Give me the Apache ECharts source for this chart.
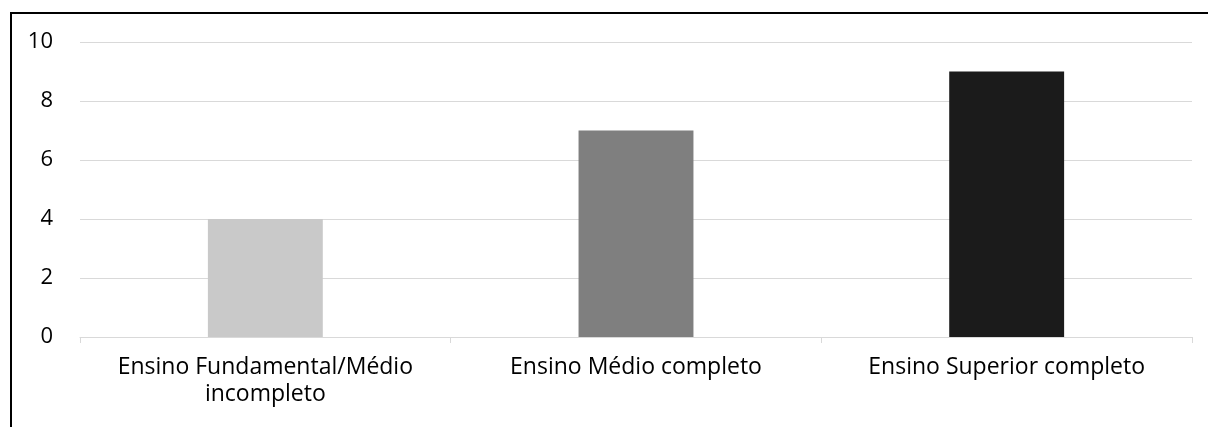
<!DOCTYPE html>
<html>
<head>
<meta charset="utf-8">
<script src="https://cdn.jsdelivr.net/npm/echarts@6/dist/echarts.min.js"></script>
<style>
  html, body { margin: 0; padding: 0; background: #fff; }
  #chart { width: 1208px; height: 427px; }
</style>
</head>
<body>
<div id="chart"></div>
<script>
const categories = ['Ensino Fundamental/Médio\nincompleto', 'Ensino Médio completo', 'Ensino Superior completo'];
const values = [4, 7, 9];
const barColors = ['#c9c9c9', '#7f7f7f', '#1b1b1b'];

const chart = echarts.init(document.getElementById('chart'));

chart.setOption({
  animation: false,
  textStyle: { fontFamily: 'Open Sans' },
  grid: { left: 80, right: 16, top: 42, bottom: 90 },
  graphic: [
    {
      type: 'polyline',
      shape: { points: [[11, 440], [11, 13], [1220, 13]] },
      style: { fill: null, stroke: '#000', lineWidth: 2 },
      silent: true
    }
  ],
  xAxis: {
    type: 'category',
    data: categories,
    axisLine: { lineStyle: { color: '#d9d9d9', width: 1 } },
    axisTick: { show: true, interval: 0, length: 6, lineStyle: { color: '#d9d9d9' } },
    axisLabel: { color: '#000', fontSize: 23, lineHeight: 27, margin: 17, interval: 0, hideOverlap: false }
  },
  yAxis: {
    type: 'value',
    min: 0,
    max: 10,
    interval: 2,
    axisLine: { show: false },
    axisTick: { show: false },
    splitLine: { lineStyle: { color: '#d9d9d9', width: 1 } },
    axisLabel: { color: '#000', fontSize: 22, margin: 27 }
  },
  series: [
    {
      type: 'bar',
      barWidth: '31%',
      data: values.map((v, i) => ({ value: v, itemStyle: { color: barColors[i] } }))
    }
  ]
});
</script>
</body>
</html>
